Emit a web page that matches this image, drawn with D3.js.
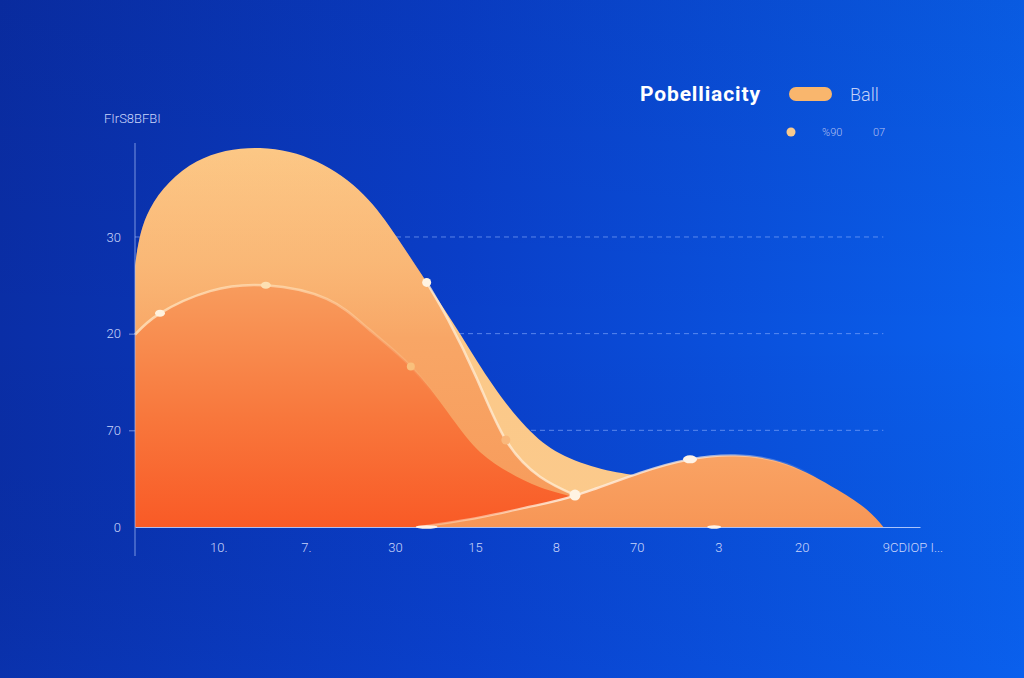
<!DOCTYPE html>
<html>
<head>
<meta charset="utf-8">
<script src="https://cdn.jsdelivr.net/npm/d3@7"></script>
<style>
  html, body { margin: 0; padding: 0; background: #0a3fc4; }
  svg { display: block; }
</style>
</head>
<body>
<svg id="chart" width="1024" height="678"></svg>
<script>
// ---------- DATA ----------
const yAxisTitle = "FIrS8BFBI";
const yTickValues = [0, 10, 20, 30];
const yTickLabels = ["0", "70", "20", "30"];
const xTickValues = [1, 2.05, 3.12, 4.08, 5.05, 6.02, 7, 8, 9.33];
const xTickLabels = ["10.", "7.", "30", "15", "8", "70", "3", "20", "9CDIOP I..."];

const legendTitle = "Pobelliacity";
const legendSeries = "Ball";
const legendSub = ["%90", "07"];

// light (largest) area
const seriesA = [
  [0, 27.0], [0.18, 32.9], [0.74, 37.8], [1.5, 39.2], [2.18, 37.8],
  [2.74, 34.4], [3.14, 30.0], [3.5, 25.3], [3.9, 20.0], [4.3, 14.6], [4.7, 10.3],
  [5.1, 7.6], [5.6, 6.0], [6.1, 5.2], [6.8, 4.0], [7.6, 2.4], [8.3, 1.0], [8.9, 0]
];
// medium band (shares A's left outline, then cuts inward)
const seriesC = [
  [0, 27.0], [0.18, 32.9], [0.74, 37.8], [1.5, 39.2], [2.18, 37.8],
  [2.74, 34.4], [3.14, 30.0], [3.5, 25.3], [3.76, 21.4], [4.1, 15.4], [4.45, 9.0],
  [4.86, 5.2], [5.28, 3.3], [5.9, 1.4], [6.6, 0]
];
const lineC = [[3.5, 25.3], [3.76, 21.4], [4.1, 15.4], [4.45, 9.0], [4.86, 5.2], [5.28, 3.3]];
// red-orange area
const seriesB = [
  [0, 19.9], [0.3, 22.1], [0.9, 24.4], [1.57, 25.0], [2.3, 23.6], [2.8, 20.5],
  [3.31, 16.6], [3.75, 11.9], [4.1, 8.1], [4.46, 5.8], [4.86, 4.1], [5.3, 3.0],
  [6.0, 1.4], [6.9, 0]
];
// right bump
const seriesD = [
  [3.4, 0], [4.14, 1.0], [4.74, 2.1], [5.3, 3.3], [6.06, 5.6], [6.66, 7.0],
  [7.2, 7.4], [7.82, 6.5], [8.42, 3.9], [8.78, 1.8], [8.98, 0]
];

const markersB = [[0.3, 22.1], [1.57, 25.0], [3.31, 16.6]];
const markersC = [[3.5, 25.3], [4.45, 9.0], [5.28, 3.3]];
const markersD = [[6.66, 7.0]];
const markersBase = [[3.5, 0], [6.95, 0]];

// ---------- CHART ----------
const svg = d3.select("#chart");
const W = 1024, H = 678;
const defs = svg.append("defs");

function linGrad(id, x1, y1, x2, y2, stops) {
  const g = defs.append("linearGradient").attr("id", id)
    .attr("gradientUnits", "userSpaceOnUse")
    .attr("x1", x1).attr("y1", y1).attr("x2", x2).attr("y2", y2);
  stops.forEach(s => g.append("stop").attr("offset", s[0])
    .attr("stop-color", s[1]).attr("stop-opacity", s[2] === undefined ? 1 : s[2]));
}

linGrad("bg", 0, 0, W, 0, [[0, "#0a2ea6"], [0.45, "#0a3fca"], [1, "#0a62ef"]]);
linGrad("bgv", 0, 0, 0, H, [[0, "#000a40", 0.08], [0.5, "#000a40", 0], [1, "#0a50e0", 0.12]]);
linGrad("gA", 0, 145, 0, 527, [[0, "#fcc785"], [1, "#fbca8c"]]);
linGrad("gC", 0, 150, 0, 527, [[0, "#f8a868", 0], [0.3, "#f8aa68", 0.55], [0.5, "#f8a666"], [1, "#f79a5a"]]);
linGrad("gB", 0, 285, 0, 527, [[0, "#f89c5d"], [0.55, "#f8773c"], [1, "#f95a26"]]);
linGrad("gD", 0, 455, 0, 527, [[0, "#f9a364"], [1, "#f79656"]]);
linGrad("sB", 135, 0, 440, 0, [[0, "#ffe4bf", 0.8], [0.55, "#ffe4bf", 0.6], [1, "#ffe4bf", 0]]);
linGrad("sD", 420, 0, 820, 0, [[0, "#ffe6c8", 0.35], [0.35, "#ffeede", 0.85], [0.7, "#ffeede", 0.7], [1, "#ffeede", 0]]);

svg.append("rect").attr("width", W).attr("height", H).attr("fill", "url(#bg)");
svg.append("rect").attr("width", W).attr("height", H).attr("fill", "url(#bgv)");

const x = d3.scaleLinear().domain([0, 9.42]).range([135, 920]);
const y = d3.scaleLinear().domain([0, 40]).range([527, 140.3]);

const curve = d3.curveNatural;
const area = d3.area().x(d => x(d[0])).y0(y(0)).y1(d => y(d[1])).curve(curve);
const line = d3.line().x(d => x(d[0])).y(d => y(d[1])).curve(curve);

// grid lines
svg.append("g").selectAll("line").data(yTickValues.filter(v => v > 0)).join("line")
  .attr("x1", x(0)).attr("x2", x(8.98))
  .attr("y1", d => y(d)).attr("y2", d => y(d))
  .attr("stroke", "#8fb0ff").attr("stroke-opacity", 0.6)
  .attr("stroke-width", 1).attr("stroke-dasharray", "5,4");

// areas
svg.append("path").datum(seriesA).attr("d", area).attr("fill", "url(#gA)");
svg.append("path").datum(seriesC).attr("d", area).attr("fill", "url(#gC)");
svg.append("path").datum(seriesB).attr("d", area).attr("fill", "url(#gB)");
svg.append("path").datum(seriesB).attr("d", line).attr("fill", "none")
  .attr("stroke", "url(#sB)").attr("stroke-width", 2.5);
svg.append("path").datum(lineC).attr("d", line).attr("fill", "none")
  .attr("stroke", "#ffeed6").attr("stroke-opacity", 0.75).attr("stroke-width", 2.5)
  .attr("stroke-linecap", "round");
svg.append("path").datum(seriesD).attr("d", area).attr("fill", "url(#gD)");
svg.append("path").datum(seriesD).attr("d", line).attr("fill", "none")
  .attr("stroke", "url(#sD)").attr("stroke-width", 2.2);

// axes
const yAxisG = svg.append("g").attr("transform", `translate(${x(0)},0)`)
  .call(d3.axisLeft(y).tickValues(yTickValues).tickSize(6).tickPadding(8)
    .tickFormat((d, i) => yTickLabels[i]));
yAxisG.select(".domain").remove();
yAxisG.selectAll(".tick line").attr("stroke", "#9fb6f5").attr("stroke-opacity", 0.7);
yAxisG.selectAll(".tick text").attr("fill", "#c9d5fa")
  .style("font-family", "Roboto, 'DejaVu Sans', sans-serif").style("font-size", "13px")
  .style("font-weight", 300);
yAxisG.selectAll(".tick").filter(d => d === 0 || d === 30).select("line").remove();

svg.append("line").attr("x1", x(0)).attr("x2", x(0)).attr("y1", 143).attr("y2", 556)
  .attr("stroke", "#a9bff7").attr("stroke-opacity", 0.7).attr("stroke-width", 1);

const xAxisG = svg.append("g").attr("transform", `translate(0,${y(0)})`)
  .call(d3.axisBottom(x).tickValues(xTickValues).tickSize(0).tickPadding(16)
    .tickFormat((d, i) => xTickLabels[i]));
xAxisG.select(".domain").attr("stroke", "#c9d7ff").attr("stroke-opacity", 0.85).attr("stroke-width", 1.2);
xAxisG.selectAll(".tick text").attr("fill", "#c9d5fa")
  .style("font-family", "Roboto, 'DejaVu Sans', sans-serif").style("font-size", "13px")
  .style("font-weight", 300);

svg.append("text").attr("x", 104).attr("y", 123).text(yAxisTitle)
  .attr("fill", "#c9d5fa").style("font-family", "Roboto, 'DejaVu Sans', sans-serif")
  .style("font-size", "13px").style("font-weight", 300);

// markers
svg.append("g").selectAll("ellipse").data(markersB).join("ellipse")
  .attr("cx", d => x(d[0])).attr("cy", d => y(d[1]))
  .attr("rx", (d, i) => i < 2 ? 5 : 4).attr("ry", (d, i) => i < 2 ? 3.5 : 4)
  .attr("fill", (d, i) => i === 0 ? "#fff2de" : i === 1 ? "#fde0b2" : "#f9c07c");
svg.append("g").selectAll("circle").data(markersC).join("circle")
  .attr("cx", d => x(d[0])).attr("cy", d => y(d[1]))
  .attr("r", (d, i) => i === 2 ? 5.5 : 4.5)
  .attr("fill", (d, i) => i === 1 ? "#f9b87c" : "#fff3e2");
svg.append("g").selectAll("ellipse").data(markersD).join("ellipse")
  .attr("cx", d => x(d[0])).attr("cy", d => y(d[1]))
  .attr("rx", 7).attr("ry", 4).attr("fill", "#fff3e6");
svg.append("g").selectAll("ellipse").data(markersBase).join("ellipse")
  .attr("cx", d => x(d[0])).attr("cy", d => y(d[1]))
  .attr("rx", (d, i) => i === 0 ? 11 : 7).attr("ry", 1.8).attr("fill", "#fff3e6");

// legend
svg.append("text").attr("x", 640).attr("y", 101).text(legendTitle)
  .attr("fill", "#ffffff").style("font-family", "Roboto, 'DejaVu Sans', sans-serif")
  .style("font-size", "21px").style("font-weight", 700)
  .attr("textLength", 120).attr("lengthAdjust", "spacing");
svg.append("rect").attr("x", 789).attr("y", 87).attr("width", 43).attr("height", 14)
  .attr("rx", 7).attr("fill", "#f9b66d");
svg.append("text").attr("x", 850).attr("y", 101).text(legendSeries)
  .attr("fill", "#c3d0f7").style("font-family", "Roboto, 'DejaVu Sans', sans-serif")
  .style("font-size", "18px").style("font-weight", 300);
svg.append("circle").attr("cx", 791).attr("cy", 132).attr("r", 4.5).attr("fill", "#f9ca8d");
svg.append("text").attr("x", 822).attr("y", 136).text(legendSub[0])
  .attr("fill", "#aebff0").style("font-family", "Roboto, 'DejaVu Sans', sans-serif")
  .style("font-size", "11px").style("font-weight", 300);
svg.append("text").attr("x", 873).attr("y", 136).text(legendSub[1])
  .attr("fill", "#aebff0").style("font-family", "Roboto, 'DejaVu Sans', sans-serif")
  .style("font-size", "11px").style("font-weight", 300);
</script>
</body>
</html>
